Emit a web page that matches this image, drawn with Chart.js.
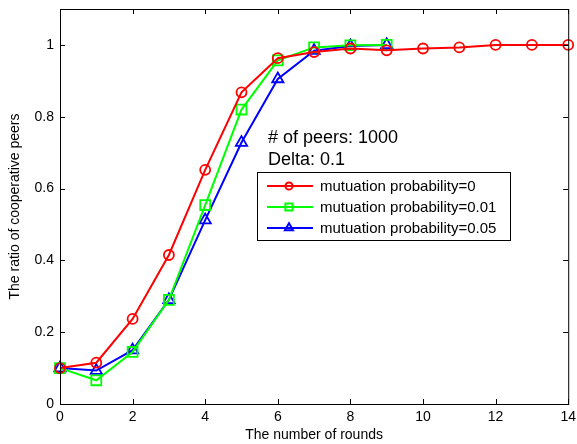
<!DOCTYPE html>
<html>
<head>
<meta charset="utf-8">
<script src="https://cdn.jsdelivr.net/npm/chart.js@4.4.1/dist/chart.umd.min.js"></script>
<style>
  html, body { margin: 0; padding: 0; background: #fff; }
  #wrap { width: 577px; height: 444px; }
</style>
</head>
<body>
<div id="wrap"><canvas id="chart" width="577" height="444"></canvas></div>
<script>
// data
const rounds = [0, 1, 2, 3, 4, 5, 6, 7, 8, 9, 10, 11, 12, 13, 14];
const prob0 = [0.10, 0.115, 0.237, 0.415, 0.652, 0.868, 0.963, 0.98, 0.99, 0.985, 0.99, 0.993, 1.0, 1.0, 1.0];
const prob001 = [0.10, 0.066, 0.145, 0.29, 0.554, 0.82, 0.957, 0.993, 0.999, 1.0];
const prob005 = [0.10, 0.093, 0.15, 0.29, 0.512, 0.728, 0.905, 0.984, 0.997, 1.0];
const xTicks = [0, 2, 4, 6, 8, 10, 12, 14];
const yTicks = [0, 0.2, 0.4, 0.6, 0.8, 1];
const seriesNames = ["mutuation probability=0", "mutuation probability=0.01", "mutuation probability=0.05"];
const notes = ["# of peers: 1000", "Delta: 0.1"];

const toPoints = (vals) => vals.map((v, i) => ({ x: rounds[i], y: v }));

const font = "Liberation Sans, Arial, sans-serif";

// MATLAB style box, inward ticks, annotation and legend
const matlabBox = {
  id: "matlabBox",
  afterDraw(chart) {
    const { ctx, chartArea: a, scales } = chart;
    ctx.save();
    ctx.strokeStyle = "#000";
    ctx.lineWidth = 1;
    ctx.strokeRect(a.left + 0.5, a.top + 0.5, a.right - a.left, a.bottom - a.top);

    // ticks inward, top and bottom / left and right
    ctx.beginPath();
    xTicks.forEach(t => {
      const px = Math.round(scales.x.getPixelForValue(t)) + 0.5;
      ctx.moveTo(px, a.bottom); ctx.lineTo(px, a.bottom - 5);
      ctx.moveTo(px, a.top); ctx.lineTo(px, a.top + 5);
    });
    yTicks.forEach(t => {
      const py = Math.round(scales.y.getPixelForValue(t)) + 0.5;
      ctx.moveTo(a.left, py); ctx.lineTo(a.left + 5, py);
      ctx.moveTo(a.right, py); ctx.lineTo(a.right - 5, py);
    });
    ctx.stroke();

    // text notes
    ctx.fillStyle = "#000";
    ctx.font = "18px " + font;
    ctx.textBaseline = "middle";
    ctx.fillText(notes[0], 268, 138);
    ctx.fillText(notes[1], 268, 160);

    // legend
    const lx = 257, ly = 172, lw = 253, lh = 68;
    ctx.fillStyle = "#fff";
    ctx.fillRect(lx, ly, lw, lh);
    ctx.strokeStyle = "#000";
    ctx.strokeRect(lx + 0.5, ly + 0.5, lw, lh);
    ctx.font = "15px " + font;
    chart.data.datasets.forEach((ds, i) => {
      const y = ly + 14 + i * 21;
      ctx.strokeStyle = ds.borderColor;
      ctx.lineWidth = 2;
      ctx.beginPath();
      ctx.moveTo(lx + 10, y); ctx.lineTo(lx + 56, y);
      ctx.stroke();
      ctx.fillStyle = "rgba(0,0,0,0)";
      Chart.helpers.drawPoint(ctx, { pointStyle: ds.pointStyle, radius: ds.pointRadius * 0.72, borderWidth: 1.8 }, lx + 32, y);
      ctx.fillStyle = "#000";
      ctx.fillText(ds.label, lx + 63, y + 1);
    });
    ctx.restore();
  }
};

new Chart(document.getElementById("chart"), {
  type: "line",
  data: {
    datasets: [
      { label: seriesNames[0], data: toPoints(prob0), borderColor: "#ff0000", pointStyle: "circle", pointRadius: 5 },
      { label: seriesNames[1], data: toPoints(prob001), borderColor: "#00ff00", pointStyle: "rect", pointRadius: 7 },
      { label: seriesNames[2], data: toPoints(prob005), borderColor: "#0000ff", pointStyle: "triangle", pointRadius: 6.5 }
    ].map(ds => Object.assign(ds, {
      borderWidth: 2,
      pointBorderColor: ds.borderColor,
      pointBackgroundColor: "rgba(0,0,0,0)",
      pointBorderWidth: 1.8,
      tension: 0,
      clip: false
    }))
  },
  plugins: [matlabBox],
  options: {
    responsive: false,
    animation: false,
    layout: { padding: { top: 9, right: 7, left: 0, bottom: 0 } },
    plugins: { legend: { display: false }, tooltip: { enabled: false } },
    scales: {
      x: {
        type: "linear",
        min: 0, max: 14,
        afterBuildTicks: s => { s.ticks = xTicks.map(v => ({ value: v })); },
        afterFit: s => { s.height = 40; s.paddingLeft = 0; s.paddingRight = 0; },
        grid: { display: false, drawTicks: false },
        border: { display: false },
        ticks: { color: "#000", font: { size: 14, family: font }, padding: 5 },
        title: { display: true, text: "The number of rounds", color: "#000", font: { size: 14, family: font }, padding: { top: 0, bottom: 0 } }
      },
      y: {
        min: 0, max: 1.1,
        afterBuildTicks: s => { s.ticks = yTicks.map(v => ({ value: v })); },
        afterFit: s => { s.width = 60; s.paddingTop = 0; s.paddingBottom = 0; },
        grid: { display: false, drawTicks: false },
        border: { display: false },
        ticks: { color: "#000", font: { size: 14, family: font }, padding: 6, callback: v => String(+v.toFixed(1)) },
        title: { display: true, text: "The ratio of cooperative peers", color: "#000", font: { size: 14, family: font }, padding: { top: 7, bottom: 0 } }
      }
    }
  }
});
</script>
</body>
</html>
